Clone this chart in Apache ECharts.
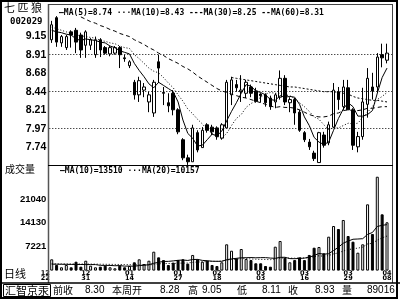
<!DOCTYPE html>
<html><head><meta charset="utf-8">
<script src="https://cdn.jsdelivr.net/npm/echarts@6/dist/echarts.min.js"></script>
<style>html,body{margin:0;padding:0;background:#fff}#c{width:400px;height:300px}</style>
</head><body><div id="c"></div>
<script>
// ---- data ----
const dateLabelIndex = [0, 7, 16, 26, 34, 43, 52, 61, 69];
const dateLabels = ['12\n22', '12\n31', '01\n14', '01\n27', '02\n18', '03\n03', '03\n16', '03\n29', '04\n08'];
const priceTickLabels = ['7.74', '7.97', '8.21', '8.44', '8.68', '8.91', '9.15'];
const priceGridLevels = [7.97, 8.44, 8.91];
const volTickLabels = ['7221', '14130', '21040'];

const openP = [9.10,9.38,9.06,9.00,9.20,9.22,9.16,9.03,9.03,8.91, 9.10,9.00,8.92,8.93,9.00,8.87,8.77,8.56,8.40,8.46,
  8.31,8.17,8.82,8.43,8.30,8.42,8.21,7.83,7.60,7.55, 7.92,7.73,8.02,7.99,7.98,7.85,7.98,8.40,8.53,8.44,
  8.42,8.50,8.45,8.41,8.40,8.36,8.31,8.37,8.61,8.30, 8.34,8.18,7.92,7.80,7.66,7.54,7.89,7.79,7.99,8.44,
  8.25,8.49,8.21,7.74,7.87,8.28,8.50,8.50,8.91,8.84];
const closeP = [9.29,9.07,9.14,9.14,9.16,9.07,8.97,9.20,9.10,9.10, 8.97,8.93,9.00,9.00,8.91,8.86,8.82,8.40,8.58,8.50,
  8.40,8.56,8.74,8.42,8.26,8.21,7.93,7.60,7.55,7.98, 7.70,7.95,7.95,7.93,7.87,8.02,8.56,8.59,8.49,8.46,
  8.56,8.42,8.32,8.39,8.30,8.25,8.40,8.61,8.31,8.34, 8.17,7.95,7.83,7.74,7.59,7.92,7.76,8.02,8.46,8.34,
  8.50,8.21,7.76,7.87,8.31,8.61,8.45,8.88,8.87,8.93];
const lowP = [9.06,9.01,9.01,8.97,9.00,8.93,8.87,8.87,8.97,8.87, 8.88,8.91,8.89,8.91,8.74,8.82,8.74,8.34,8.31,8.37,
  8.18,8.12,8.55,8.27,8.18,8.14,7.90,7.57,7.51,7.55, 7.67,7.73,7.92,7.89,7.83,7.83,7.98,8.27,8.44,8.31,
  8.36,8.37,8.30,8.30,8.25,8.21,8.23,8.34,8.27,8.18, 8.02,7.93,7.80,7.70,7.56,7.54,7.73,7.76,7.98,8.21,
  8.21,8.21,7.70,7.67,7.83,8.11,8.34,8.42,8.75,8.80];
const highP = [9.34,9.40,9.16,9.16,9.22,9.25,9.19,9.22,9.12,9.14, 9.12,9.02,9.02,9.02,9.02,8.91,8.84,8.59,8.63,8.55,
  8.44,8.59,8.91,8.50,8.42,8.46,8.23,7.85,7.64,8.02, 7.95,7.99,8.04,8.02,8.00,8.04,8.59,8.63,8.59,8.65,
  8.59,8.53,8.49,8.42,8.42,8.39,8.42,8.71,8.65,8.37, 8.36,8.21,7.94,7.84,7.69,7.93,7.93,8.06,8.55,8.50,
  8.59,8.59,8.23,7.93,8.49,8.74,8.68,8.93,9.05,9.05];
const ma5 = [9.22,9.20,9.19,9.17,9.16,9.11,9.09,9.11,9.10,9.09, 9.07,9.06,9.02,9.00,8.96,8.94,8.92,8.80,8.71,8.63,
  8.54,8.49,8.56,8.52,8.48,8.44,8.31,8.08,7.91,7.85, 7.75,7.76,7.83,7.90,7.88,7.94,8.07,8.19,8.30,8.42,
  8.53,8.51,8.45,8.43,8.40,8.34,8.33,8.39,8.37,8.38, 8.37,8.28,8.12,8.01,7.86,7.80,7.77,7.80,7.95,8.10,
  8.22,8.30,8.25,8.13,8.13,8.15,8.20,8.42,8.62,8.74];
const ma10 = [9.26,9.24,9.22,9.20,9.18,9.16,9.15,9.14,9.13,9.12, 9.09,9.08,9.06,9.05,9.02,9.00,8.99,8.91,8.86,8.80,
  8.74,8.70,8.68,8.62,8.55,8.49,8.40,8.32,8.22,8.16, 8.09,8.03,7.96,7.91,7.87,7.85,7.91,8.01,8.10,8.15,
  8.24,8.29,8.32,8.37,8.41,8.43,8.42,8.42,8.40,8.39, 8.35,8.30,8.25,8.19,8.12,8.09,8.02,7.96,7.98,7.98,
  8.01,8.04,8.03,8.04,8.11,8.18,8.25,8.34,8.38,8.43];
const ma30 = [null,null,null,null,null,null,9.39,9.36,9.33,9.31, 9.28,9.26,9.23,9.21,9.18,9.16,9.14,9.10,9.07,9.04,
  9.00,8.97,8.93,8.90,8.86,8.83,8.80,8.76,8.73,8.69, 8.64,8.60,8.56,8.52,8.48,8.45,8.43,8.41,8.39,8.37,
  8.36,8.34,8.32,8.30,8.28,8.26,8.24,8.25,8.24,8.24, 8.23,8.21,8.18,8.15,8.13,8.12,8.12,8.13,8.16,8.17,
  8.20,8.21,8.20,8.20,8.21,8.23,8.23,8.24,8.25,8.25];
const ma60 = [null,null,null,null,null,null,null,null,null,null, null,null,null,null,null,null,null,null,null,null,
  null,null,null,null,null,null,null,null,null,null, null,null,null,null,null,null,null,8.62,8.61,8.60,
  8.59,8.58,8.57,8.56,8.55,8.54,8.53,8.52,8.51,8.50, 8.50,8.49,8.48,8.47,8.46,8.45,8.44,8.44,8.44,8.43,
  8.42,8.41,8.38,8.36,8.35,8.34,8.33,8.33,8.32,8.31];
const volume = [3320,1650,970,1650,970,2620,1150,2910,1440,970, 1150,1440,970,680,1440,970,1350,2440,3320,1940,
  2910,5560,3900,3100,1650,2350,3100,3320,2050,4600, 3320,2620,2910,1650,1350,2440,7730,5850,3600,6350,
  3400,3100,2150,2150,1350,1150,7030,8700,3800,2440, 3100,3900,3100,4600,6730,6940,5080,9970,13110,12230,
  14880,10170,8500,5260,7730,19490,10760,27600,16550,14200];
const volMa10 = [1900,1880,1860,1840,1820,1800,1790,1780,1770,1765, 1548,1527,1527,1430,1477,1312,1332,1285,1473,1570,
  1746,2158,2451,2693,2714,2852,3027,3115,2988,3254, 3295,3001,2902,2757,2727,2736,3199,3452,3607,3782,
  3790,3838,3762,3812,3812,3683,3613,3898,3918,3527, 3497,3577,3672,3917,4455,5034,4839,4966,5897,6876,
  8054,8681,9221,9287,9387,10642,11210,12973,13317,13510];
const volMa20 = [2000,1990,1980,1970,1960,1950,1940,1930,1920,1900, 1880,1860,1840,1820,1800,1780,1750,1720,1690,1668,
  1647,1843,1989,2062,2096,2082,2180,2200,2231,2412, 2521,2580,2677,2725,2721,2794,3113,3284,3298,3518,
  3543,3420,3332,3285,3270,3210,3406,3675,3763,3655, 3644,3708,3717,3865,4134,4359,4226,4432,4908,5202,
  5776,6129,6447,6602,6921,7838,8025,8970,9607,10157];

// ---- chart ----
const N = openP.length;
const categories = Array.from({length: N + 1}, (_, i) => String(i));
const candles = openP.map((o, i) => [o, closeP[i], lowP[i], highP[i]]);
const volBars = volume.map((v, i) => ({
  value: v,
  itemStyle: closeP[i] >= openP[i]
    ? {color: '#fff', borderColor: '#000', borderWidth: 1}
    : {color: '#000', borderColor: '#000', borderWidth: 1}
}));
const MONO = '"DejaVu Sans Mono"';
const CJK = '"Noto Sans CJK SC"';
const gridL = 49.3, gridW = 345;

const chart = echarts.init(document.getElementById('c'), null, {renderer: 'canvas', width: 400, height: 300});
const lineS = (name, data, type, xi, yi) => ({
  type: 'line', name, data, xAxisIndex: xi, yAxisIndex: yi, symbol: 'none', silent: true,
  lineStyle: {color: '#000', width: 1, type}, z: 4, animation: false
});

const t = (text, x, y, font, extra) => ({type: 'text', x, y, z: 100,
  style: Object.assign({text, font, fill: '#000', align: 'left', verticalAlign: 'middle'}, extra || {})});

chart.setOption({
  animation: false,
  backgroundColor: '#fff',
  grid: [
    {left: gridL, width: gridW, top: 4, height: 161, outerBoundsMode: 'none', containLabel: false},
    {left: gridL, width: gridW, top: 165, height: 105.6, outerBoundsMode: 'none', containLabel: false}
  ],
  xAxis: [
    {gridIndex: 0, type: 'category', data: categories, boundaryGap: true,
      axisLine: {show: false}, axisTick: {show: false}, axisLabel: {show: false}, splitLine: {show: false}},
    {gridIndex: 1, type: 'category', data: categories, boundaryGap: true,
      axisLine: {show: false}, axisTick: {show: false}, splitLine: {show: false},
      axisLabel: {
        show: true, margin: 0.5, color: '#000', fontSize: 6.5, lineHeight: 5, fontWeight: 'bold',
        fontFamily: '"DejaVu Sans"',
        interval: (idx) => dateLabelIndex.includes(idx),
        formatter: (v, idx) => {
          const k = dateLabelIndex.indexOf(idx);
          if (k < 0) return '';
          const parts = dateLabels[k].split('\n');
          if (k === 0) return parts.map(p => '{s|' + p + '}').join('\n');
          return dateLabels[k];
        },
        rich: {s: {fontSize: 6.5, lineHeight: 5, fontWeight: 'bold', fontFamily: '"DejaVu Sans"', color: '#000', padding: [0, 13, 0, 0]}}
      }}
  ],
  yAxis: [
    {gridIndex: 0, type: 'value', min: 7.509, max: 9.554, scale: true,
      axisLine: {show: false}, axisTick: {show: false}, splitLine: {show: false},
      axisLabel: {customValues: priceTickLabels.map(Number), margin: 3, color: '#000',
        fontSize: 10.5, fontWeight: 'bold', fontFamily: '"Liberation Sans"',
        formatter: (v) => priceTickLabels.find(s => Math.abs(Number(s) - v) < 1e-6) || ''}},
    {gridIndex: 1, type: 'value', min: 0, max: 31050,
      axisLine: {show: false}, axisTick: {show: false}, splitLine: {show: false},
      axisLabel: {customValues: volTickLabels.map(Number), margin: 3, color: '#000',
        fontSize: 9.5, fontWeight: 'bold', fontFamily: '"Liberation Sans"',
        formatter: (v) => volTickLabels.find(s => Math.abs(Number(s) - v) < 1e-6) || ''}}
  ],
  series: [
    {type: 'candlestick', name: 'K', data: candles, xAxisIndex: 0, yAxisIndex: 0, barWidth: 3, silent: true, z: 3,
      itemStyle: {color: '#fff', color0: '#000', borderColor: '#000', borderColor0: '#000', borderColorDoji: '#000', borderWidth: 1},
      markLine: {silent: true, symbol: ['none', 'none'], label: {show: false}, animation: false,
        lineStyle: {color: '#000', width: 1, type: [1, 2]},
        data: priceGridLevels.map(v => ({yAxis: v}))}},
    lineS('MA5', ma5, 'solid', 0, 0),
    lineS('MA10', ma10, [1, 2], 0, 0),
    lineS('MA30', ma30, [4, 3], 0, 0),
    lineS('MA60', ma60, [2, 2], 0, 0),
    {type: 'bar', name: 'VOL', data: volBars, xAxisIndex: 1, yAxisIndex: 1, barWidth: 3, silent: true, z: 3},
    lineS('VMA10', volMa10, 'solid', 1, 1),
    lineS('VMA20', volMa20, [1, 2], 1, 1)
  ],
  graphic: [
    {type: 'rect', z: 100, shape: {x: 1, y: 1, width: 396, height: 297}, style: {fill: null, stroke: '#000', lineWidth: 2}},
    {type: 'line', z: 100, shape: {x1: 48.5, y1: 4, x2: 48.5, y2: 283}, style: {stroke: '#555', lineWidth: 1.5}},
    {type: 'line', z: 100, shape: {x1: 48, y1: 4.5, x2: 393, y2: 4.5}, style: {stroke: '#444', lineWidth: 1}},
    {type: 'line', z: 100, shape: {x1: 392.5, y1: 4, x2: 392.5, y2: 283}, style: {stroke: '#444', lineWidth: 1}},
    {type: 'line', z: 100, shape: {x1: 48, y1: 165.5, x2: 393, y2: 165.5}, style: {stroke: '#000', lineWidth: 1}},
    {type: 'line', z: 100, shape: {x1: 0, y1: 283, x2: 400, y2: 283}, style: {stroke: '#000', lineWidth: 1.5}},
    {type: 'rect', z: 100, shape: {x: 3.5, y: 284.5, width: 47, height: 12}, style: {fill: null, stroke: '#000', lineWidth: 1}},
    t('七 匹 狼', 4, 8, '11px ' + CJK),
    t('002029', 10, 22, 'bold 9px ' + MONO),
    t('成交量', 5, 169, '10px ' + CJK),
    t('日线', 4, 274, '11px ' + CJK),
    t('—MA(5)=8.74 ···MA(10)=8.43 ---MA(30)=8.25 --MA(60)=8.31', 59, 12.5, 'bold 8px ' + MONO),
    t('—MA(10)=13510 ···MA(20)=10157', 60, 170.5, 'bold 8px ' + MONO),
    t('汇智京汞', 5, 290.5, '11px ' + CJK),
    t('前收', 53, 290.5, '10px ' + CJK),
    t('8.30', 85, 290.5, '10px "Liberation Sans"'),
    t('本周开', 112, 290.5, '10px ' + CJK),
    t('8.28', 160, 290.5, '10px "Liberation Sans"'),
    t('高', 188, 290.5, '10px ' + CJK),
    t('9.05', 202, 290.5, '10px "Liberation Sans"'),
    t('低', 237, 290.5, '10px ' + CJK),
    t('8.11', 262, 290.5, '10px "Liberation Sans"'),
    t('收', 288, 290.5, '10px ' + CJK),
    t('8.93', 315, 290.5, '10px "Liberation Sans"'),
    t('量', 342, 290.5, '10px ' + CJK),
    t('89016', 367, 290.5, '10px "Liberation Sans"')
  ]
});
</script>
</body></html>
